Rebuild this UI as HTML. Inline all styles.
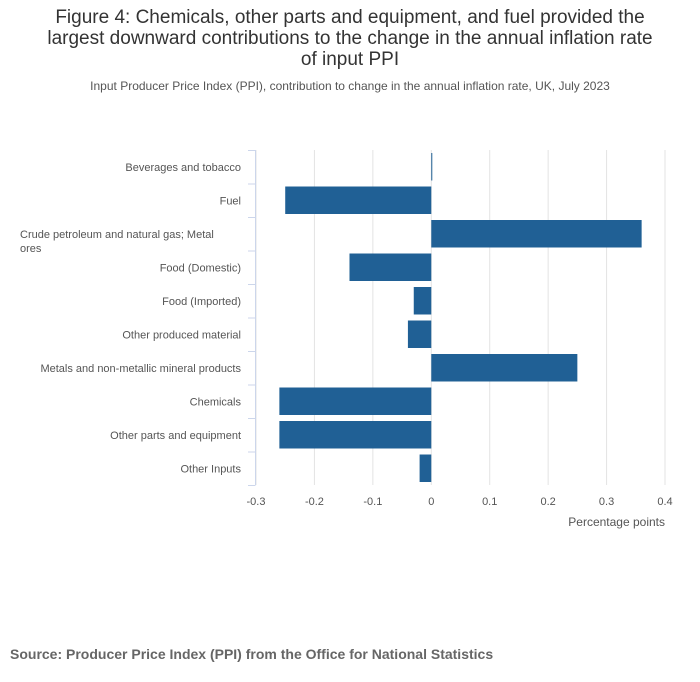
<!DOCTYPE html>
<html><head><meta charset="utf-8"><style>
body{margin:0;width:700px;height:682px;background:#fff;font-family:"Liberation Sans",sans-serif;overflow:hidden}
#title{position:absolute;left:0;top:7px;width:700px;text-align:center;font-size:19px;line-height:21px;color:#333;white-space:nowrap}
#sub{position:absolute;left:0;top:79px;width:700px;text-align:center;font-size:12px;color:#555}
#src{position:absolute;left:10px;top:646px;font-size:14px;font-weight:bold;color:#666}
svg{position:absolute;left:0;top:0}
</style></head><body>
<div id="title">Figure 4: Chemicals, other parts and equipment, and fuel provided the<br>largest downward contributions to the change in the annual inflation rate<br>of input PPI</div>
<div id="sub">Input Producer Price Index (PPI), contribution to change in the annual inflation rate, UK, July 2023</div>
<svg id="chart" width="700" height="682"></svg>
<div id="src">Source: Producer Price Index (PPI) from the Office for National Statistics</div>
<script>
const categories=["Beverages and tobacco","Fuel","Crude petroleum and natural gas; Metal ores","Food (Domestic)","Food (Imported)","Other produced material","Metals and non-metallic mineral products","Chemicals","Other parts and equipment","Other Inputs"];
const values=[0.001,-0.25,0.36,-0.14,-0.03,-0.04,0.25,-0.26,-0.26,-0.02];
const ticks=[-0.3,-0.2,-0.1,0,0.1,0.2,0.3,0.4];
const tickLabels=["-0.3","-0.2","-0.1","0","0.1","0.2","0.3","0.4"];
const NS="http://www.w3.org/2000/svg";
const svg=document.getElementById('chart');
const X0=256,X1=665,TOP=150,BOT=485;
const xs=v=>X0+(v-(-0.3))/(0.7)*(X1-X0);
const band=(BOT-TOP)/categories.length;
const ys=i=>TOP+i*band;
function mk(t,a){const e=document.createElementNS(NS,t);for(const k in a)e.setAttribute(k,a[k]);svg.appendChild(e);return e;}
ticks.forEach((t,i)=>{
 const g=mk('line',{x1:xs(t),x2:xs(t),y1:TOP,y2:BOT,stroke:'#e3e3e3','stroke-width':1});
 
 
 const l=mk('text',{x:xs(t),y:505,'text-anchor':'middle','font-size':11,fill:'#555'});
 l.textContent=tickLabels[i];
 
 
});
const ax=mk('line',{x1:255.5,x2:255.5,y1:TOP,y2:BOT,stroke:'#ccd6eb'});


for(let i=0;i<=categories.length;i++){
 const tk=mk('line',{x1:248,x2:255.5,y1:ys(i)+0.5,y2:ys(i)+0.5,stroke:'#ccd6eb'});
 
 
}
categories.forEach((c,i)=>{
 const v=values[i];
 const b=mk('rect',{x:Math.min(xs(0),xs(v)),y:ys(i)+3,width:Math.max(1,Math.abs(xs(v)-xs(0))),height:band-6,fill:'#206095'});
 
 
 const cy=ys(i)+band/2+4;
 if(c.length>40){
  const t1=mk('text',{x:20,y:cy,'font-size':11,fill:'#555'});t1.textContent="Crude petroleum and natural gas; Metal";
  
  
  const t2=mk('text',{x:20,y:cy+14,'font-size':11,fill:'#555'});t2.textContent="ores";
  
  
 }else{
  const t=mk('text',{x:241,y:cy,'text-anchor':'end','font-size':11,fill:'#555'});t.textContent=c;
  
  
 }
});
const at=mk('text',{x:665,y:526,'text-anchor':'end','font-size':12,fill:'#555'});
at.textContent="Percentage points";


</script>
</body></html>
